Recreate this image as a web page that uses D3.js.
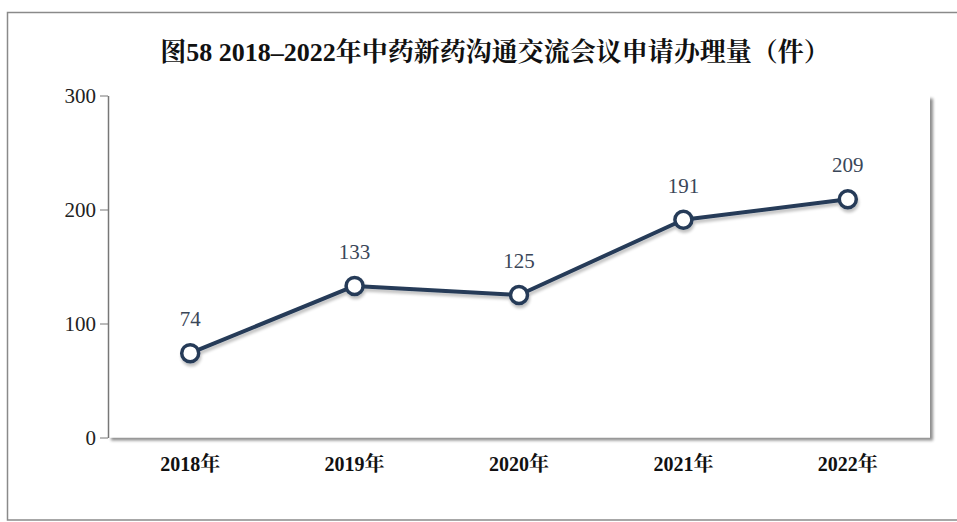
<!DOCTYPE html>
<html><head><meta charset="utf-8">
<script src="https://cdn.jsdelivr.net/npm/d3@7"></script>
<style>body{margin:0;background:#fff;}svg{display:block;}</style>
</head><body>
<svg id="c" width="957" height="522"></svg>
<script>
const title = "图58 2018–2022年中药新药沟通交流会议申请办理量（件）";
const categories = ["2018年","2019年","2020年","2021年","2022年"];
const values = [74,133,125,191,209];
const yTicks = [0,100,200,300];

const svg = d3.select("#c");
const W = 957, H = 522;
const m = {l:108, r:27, t:95.5, b:84.5};
const serif = "'Liberation Serif','Times New Roman','Noto Serif CJK SC','Noto Sans CJK SC',serif";

const defs = svg.append("defs");
const f = defs.append("filter").attr("id","sh").attr("x","-5%").attr("y","-5%").attr("width","115%").attr("height","120%");
f.append("feGaussianBlur").attr("in","SourceAlpha").attr("stdDeviation",1.6).attr("result","b");
f.append("feOffset").attr("in","b").attr("dx",2.5).attr("dy",2.5).attr("result","o");
f.append("feComponentTransfer").attr("in","o").attr("result","o2").append("feFuncA").attr("type","linear").attr("slope",0.45);
const fm = f.append("feMerge"); fm.append("feMergeNode").attr("in","o2"); fm.append("feMergeNode").attr("in","SourceGraphic");

const f2 = defs.append("filter").attr("id","sh2").attr("x","-10%").attr("y","-10%").attr("width","120%").attr("height","130%");
f2.append("feGaussianBlur").attr("in","SourceAlpha").attr("stdDeviation",1.5).attr("result","b");
f2.append("feOffset").attr("in","b").attr("dx",1).attr("dy",3).attr("result","o");
f2.append("feComponentTransfer").attr("in","o").attr("result","o2").append("feFuncA").attr("type","linear").attr("slope",0.25);
const fm2 = f2.append("feMerge"); fm2.append("feMergeNode").attr("in","o2"); fm2.append("feMergeNode").attr("in","SourceGraphic");

// outer frame
svg.append("rect").attr("x",7.5).attr("y",12.5).attr("width",W).attr("height",507.5)
  .attr("fill","#fff").attr("stroke","#8a8a8a").attr("stroke-width",1.5);

svg.append("text").attr("x",495).attr("y",61).attr("text-anchor","middle")
  .attr("font-family",serif).attr("font-weight","bold").attr("font-size",26).attr("fill","#111")
  .text(title);

const x = d3.scaleBand().domain(categories).range([m.l, W-m.r]);
const y = d3.scaleLinear().domain([0,300]).range([H-m.b, m.t]);

// plot area with shadow
svg.append("rect").attr("x",m.l).attr("y",m.t).attr("width",W-m.r-m.l).attr("height",H-m.b-m.t)
  .attr("fill","#fff").attr("filter","url(#sh)");

// y axis
const ya = svg.append("g").attr("transform",`translate(${m.l},0)`)
  .call(d3.axisLeft(y).tickValues(yTicks).tickSize(8).tickPadding(4).tickSizeOuter(0));
ya.select(".domain").attr("stroke","#777").attr("stroke-width",1.5);
ya.selectAll(".tick line").attr("stroke","#777");
ya.selectAll(".tick text").attr("font-family",serif).attr("font-size",21).attr("fill","#222");

// x labels
const xa = svg.append("g").attr("transform",`translate(0,${H-m.b})`)
  .call(d3.axisBottom(x).tickSize(0).tickPadding(19));
xa.select(".domain").remove();
xa.selectAll(".tick text").attr("font-family",serif).attr("font-weight","bold").attr("font-size",20).attr("fill","#111");

const cx = d => x(d) + x.bandwidth()/2;
const line = d3.line().x((d,i)=>cx(categories[i])).y(d=>y(d));
const g = svg.append("g").attr("filter","url(#sh2)");
g.append("path").datum(values).attr("d",line).attr("fill","none")
  .attr("stroke","#253b58").attr("stroke-width",4).attr("stroke-linejoin","round");
g.selectAll("circle").data(values).join("circle")
  .attr("cx",(d,i)=>cx(categories[i])).attr("cy",d=>y(d)).attr("r",8.5)
  .attr("fill","#fff").attr("stroke","#253b58").attr("stroke-width",3.5);

svg.selectAll("text.v").data(values).join("text").attr("class","v")
  .attr("x",(d,i)=>cx(categories[i])).attr("y",d=>y(d)-27)
  .attr("text-anchor","middle").attr("font-family",serif).attr("font-size",21).attr("fill","#3a4658")
  .text(d=>d);
</script>
</body></html>
